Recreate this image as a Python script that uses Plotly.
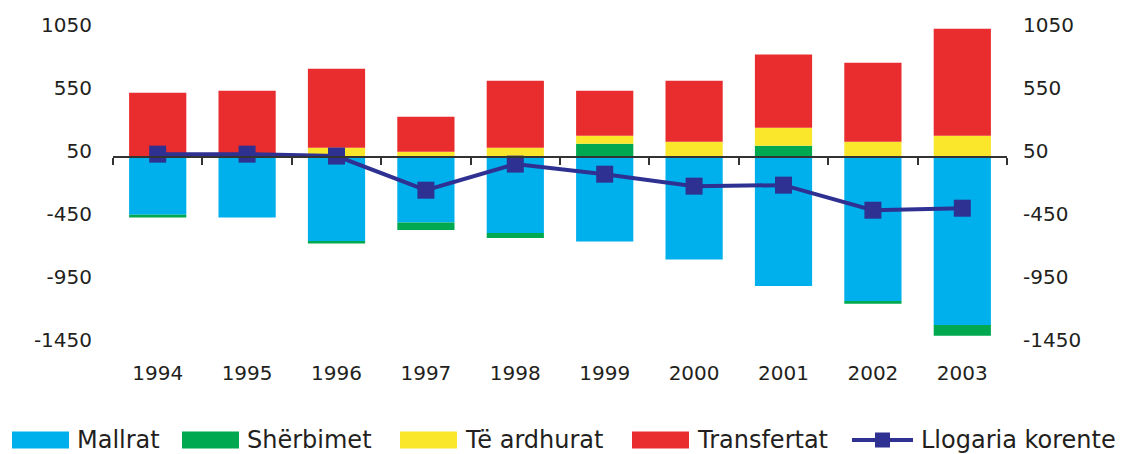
import plotly.graph_objects as go

# Zahlungsbilanz-Daten (Mio.)
years = ["1994", "1995", "1996", "1997", "1998", "1999", "2000", "2001", "2002", "2003"]
mallrat = [-455, -478, -664, -518, -600, -669, -812, -1021, -1141, -1331]
sherbimet = [-23, 0, -21, -58, -40, 107, 0, 91, -21, -85]
te_ardhurat = [8, 10, 75, 44, 75, 64, 123, 143, 123, 171]
transfertat = [505, 519, 628, 278, 533, 358, 485, 581, 628, 850]
llogaria = [25, 25, 10, -261, -54, -134, -229, -221, -420, -404]

y_ticks = [-1450, -950, -450, 50, 550, 1050]
y_ticktext = ["-1450", "-950", "-450", "50", "550", "1050"]
y_range = [-1450, 1050]

bar_series = [
    ("Mallrat", mallrat, "#00b0ec"),
    ("Shërbimet", sherbimet, "#00a94f"),
    ("Të ardhurat", te_ardhurat, "#fae72b"),
    ("Transfertat", transfertat, "#e92d2f"),
]
line_name = "Llogaria korente"
line_color = "#2e3192"
text_color = "#231f20"
font_name = "DejaVu Sans"

# Seitengröße und Plotfläche in Pixel
W, H = 1136, 454
M_L, M_R, M_T, M_B = 113, 129, 25, 114

# Legende selbst gezeichnet (Plotly begrenzt die Linienbreite im Legendensymbol)
legend_swatch_x = [12, 182, 400, 632]
legend_line_x = 852
legend_y = 440
legend_font = 24


def px_x(p):
    # Pixel -> paper-Koordinate (x)
    return (p - M_L) / (W - M_L - M_R)


def px_y(p):
    # Pixel -> paper-Koordinate (y)
    return (H - M_B - p) / (H - M_T - M_B)


def make_legend(fig):
    for (name, values, color), sx in zip(bar_series, legend_swatch_x):
        fig.add_shape(type="rect", xref="paper", yref="paper",
                      x0=px_x(sx), x1=px_x(sx + 57), y0=px_y(legend_y - 8.5), y1=px_y(legend_y + 8.5),
                      fillcolor=color, line_width=0)
        fig.add_annotation(text=name, xref="paper", yref="paper", x=px_x(sx + 63), y=px_y(legend_y),
                           xanchor="left", yanchor="middle", showarrow=False,
                           font=dict(size=legend_font, family=font_name, color=text_color))

    lx = legend_line_x
    fig.add_shape(type="line", xref="paper", yref="paper",
                  x0=px_x(lx), x1=px_x(lx + 61), y0=px_y(legend_y), y1=px_y(legend_y),
                  line=dict(color=line_color, width=4))
    fig.add_shape(type="rect", xref="paper", yref="paper",
                  x0=px_x(lx + 23), x1=px_x(lx + 38), y0=px_y(legend_y - 7.5), y1=px_y(legend_y + 7.5),
                  fillcolor=line_color, line_width=0)
    fig.add_annotation(text=line_name, xref="paper", yref="paper", x=px_x(lx + 67), y=px_y(legend_y),
                       xanchor="left", yanchor="middle", showarrow=False,
                       font=dict(size=legend_font, family=font_name, color=text_color))


def make_chart():
    fig = go.Figure()

    for name, values, color in bar_series:
        fig.add_trace(go.Bar(x=years, y=values, name=name, marker_color=color,
                             marker_line_width=0))

    fig.add_trace(go.Scatter(
        x=years, y=llogaria, name=line_name, xaxis="x2", yaxis="y2",
        mode="lines+markers", line=dict(color=line_color, width=4),
        marker=dict(symbol="square", size=17, color=line_color)))

    # x-Achse bei Null liegt auf einer eigenen Achse (Position aus dem Bereich berechnet)
    zero_pos = (0 - y_range[0]) / (y_range[1] - y_range[0])

    fig.update_layout(
        barmode="relative", bargap=0.36,
        width=W, height=H, showlegend=False,
        margin=dict(l=M_L, r=M_R, t=M_T, b=M_B),
        plot_bgcolor="white", paper_bgcolor="white",
        font=dict(family=font_name, size=20, color=text_color),
        xaxis=dict(type="category", showline=False, showgrid=False, automargin=False,
                   ticks="outside", ticklen=15, tickcolor="rgba(0,0,0,0)"),
        xaxis2=dict(type="category", overlaying="x", anchor="free", position=zero_pos,
                    showticklabels=False, showgrid=False, showline=True,
                    linecolor="#333333", linewidth=2, tickson="boundaries",
                    ticks="outside", ticklen=7, tickwidth=2, tickcolor="#333333",
                    range=[-0.5, 9.5]),
        yaxis=dict(range=y_range, tickvals=y_ticks, ticktext=y_ticktext, showgrid=False,
                   zeroline=False, showline=False, ticks="outside", ticklen=16,
                   tickcolor="rgba(0,0,0,0)", automargin=False),
        yaxis2=dict(range=y_range, tickvals=y_ticks, ticktext=y_ticktext, overlaying="y",
                    side="right", anchor="x2", showgrid=False, zeroline=False, showline=False,
                    ticks="outside", ticklen=11, tickcolor="rgba(0,0,0,0)", automargin=False),
    )
    make_legend(fig)
    return fig


if __name__ == "__main__":
    fig = make_chart()
    # Standard-Rand des body entfernen, damit die Grafik bei (0,0) beginnt
    fig.write_html("out.html", config={"displayModeBar": False},
                   post_script="document.body.style.margin='0';")
